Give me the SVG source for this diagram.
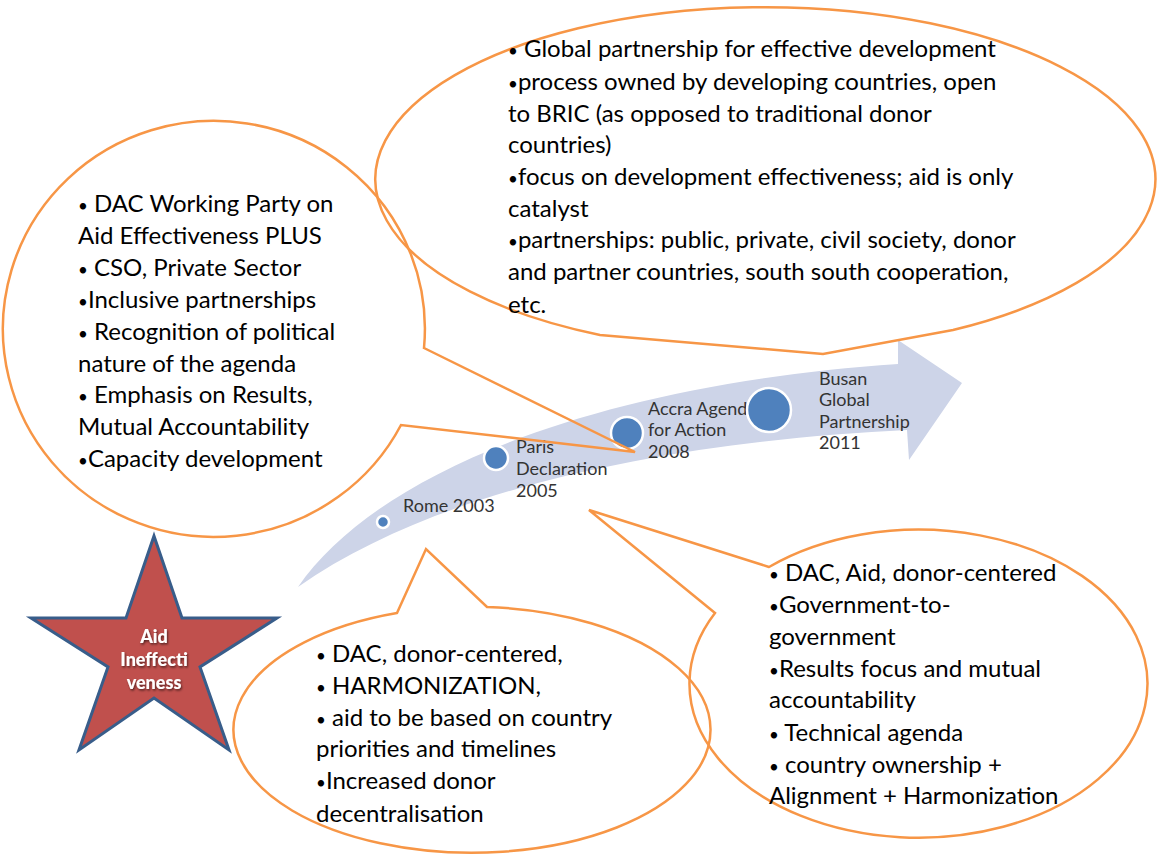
<svg xmlns="http://www.w3.org/2000/svg" width="1160" height="855" viewBox="0 0 1160 855">
<style>
.co{fill:none;stroke:#F79646;stroke-width:2.5;stroke-linejoin:miter}
.t{font-family:Lato,"Liberation Sans",sans-serif;font-size:24px;fill:#000}
.b{font-size:17px}
.lbl{font-family:Lato,"Liberation Sans",sans-serif;font-size:18px;fill:#333}
.dot{fill:#4F81BD;stroke:#fff;stroke-width:2.5}
.st{font-family:Lato,"Liberation Sans",sans-serif;font-size:18px;font-weight:900;fill:#fff;text-anchor:middle}
</style>
<defs>
<filter id="sh" x="-20%" y="-20%" width="140%" height="140%">
<feDropShadow dx="1" dy="1.5" stdDeviation="0.8" flood-color="#000" flood-opacity="0.6"/>
</filter>
</defs>
<rect width="1160" height="855" fill="#fff"/>
<g id="timeline-arrow">
<path d="M298,587 C375,475 590,385 898,364 L898,340 L962,383 L909,460 L907,430 C700,440 450,480 298,587 Z" fill="#CDD4E8"/>
</g>
<g id="milestone-rome">
<circle class="dot" cx="383" cy="522" r="6"/>
<text class="lbl" x="403" y="512">Rome 2003</text>
</g>
<g id="milestone-paris">
<circle class="dot" cx="496" cy="458" r="12"/>
<text class="lbl" x="516" y="453">Paris</text>
<text class="lbl" x="516" y="475">Declaration</text>
<text class="lbl" x="516" y="497">2005</text>
</g>
<g id="milestone-accra">
<text class="lbl" x="648" y="415">Accra Agend</text>
<text class="lbl" x="648" y="436">for Action</text>
<text class="lbl" x="648" y="458">2008</text>
<circle class="dot" cx="627" cy="433" r="16"/>
</g>
<g id="milestone-busan">
<circle class="dot" cx="769" cy="410" r="22"/>
<text class="lbl" x="819" y="385">Busan</text>
<text class="lbl" x="819" y="406">Global</text>
<text class="lbl" x="819" y="428">Partnership</text>
<text class="lbl" x="819" y="449">2011</text>
</g>
<g id="callout-busan">
<path class="co" d="M953,330 L823,354 L600,335 A390,172 0 1 1 953,330 Z"/>
<text class="t" x="508" y="57"><tspan class="b">•</tspan> Global partnership for effective development</text>
<text class="t" x="508" y="90"><tspan class="b">•</tspan>process owned by developing countries, open</text>
<text class="t" x="508" y="122">to BRIC (as opposed to traditional donor</text>
<text class="t" x="508" y="153">countries)</text>
<text class="t" x="508" y="185"><tspan class="b">•</tspan>focus on development effectiveness; aid is only</text>
<text class="t" x="508" y="217">catalyst</text>
<text class="t" x="508" y="248"><tspan class="b">•</tspan>partnerships: public, private, civil society, donor</text>
<text class="t" x="508" y="280">and partner countries, south south cooperation,</text>
<text class="t" x="508" y="313">etc.</text>
</g>
<g id="callout-left">
<path class="co" d="M424,348 L635,452 L401,425 A211,208 0 1 1 424,348 Z"/>
<text class="t" x="78" y="212"><tspan class="b">•</tspan> DAC Working Party on</text>
<text class="t" x="78" y="244">Aid Effectiveness PLUS</text>
<text class="t" x="78" y="276"><tspan class="b">•</tspan> CSO, Private Sector</text>
<text class="t" x="78" y="308"><tspan class="b">•</tspan>Inclusive partnerships</text>
<text class="t" x="78" y="340"><tspan class="b">•</tspan> Recognition of political</text>
<text class="t" x="78" y="372">nature of the agenda</text>
<text class="t" x="78" y="403"><tspan class="b">•</tspan> Emphasis on Results,</text>
<text class="t" x="78" y="435">Mutual Accountability</text>
<text class="t" x="78" y="467"><tspan class="b">•</tspan>Capacity development</text>
</g>
<g id="callout-rome">
<path class="co" d="M397,613 L426,549 L487,607 A238.5,123 0 1 1 397,613 Z"/>
<text class="t" x="316" y="662"><tspan class="b">•</tspan> DAC, donor-centered,</text>
<text class="t" x="316" y="694"><tspan class="b">•</tspan> HARMONIZATION,</text>
<text class="t" x="316" y="726"><tspan class="b">•</tspan> aid to be based on country</text>
<text class="t" x="316" y="757">priorities and timelines</text>
<text class="t" x="316" y="789"><tspan class="b">•</tspan>Increased donor</text>
<text class="t" x="316" y="822">decentralisation</text>
</g>
<g id="callout-paris">
<path class="co" d="M769,567 L589,510 L715,613 A229,154 0 1 0 769,567 Z"/>
<text class="t" x="769" y="581"><tspan class="b">•</tspan> DAC, Aid, donor-centered</text>
<text class="t" x="769" y="613"><tspan class="b">•</tspan>Government-to-</text>
<text class="t" x="769" y="645">government</text>
<text class="t" x="769" y="677"><tspan class="b">•</tspan>Results focus and mutual</text>
<text class="t" x="769" y="708">accountability</text>
<text class="t" x="769" y="741"><tspan class="b">•</tspan> Technical agenda</text>
<text class="t" x="769" y="773"><tspan class="b">•</tspan> country ownership +</text>
<text class="t" x="769" y="804">Alignment + Harmonization</text>
</g>
<g id="star-aid-ineffectiveness">
<polygon points="154,536 182,618 277,618 200,667 229,750 154,698 79,750 108,667 31,618 126,618" fill="#C0504D" stroke="#385D8A" stroke-width="3" stroke-linejoin="miter"/>
<g filter="url(#sh)">
<text class="st" x="154" y="643">Aid</text>
<text class="st" x="154" y="666">Ineffecti</text>
<text class="st" x="154" y="689">veness</text>
</g>
</g>
</svg>
